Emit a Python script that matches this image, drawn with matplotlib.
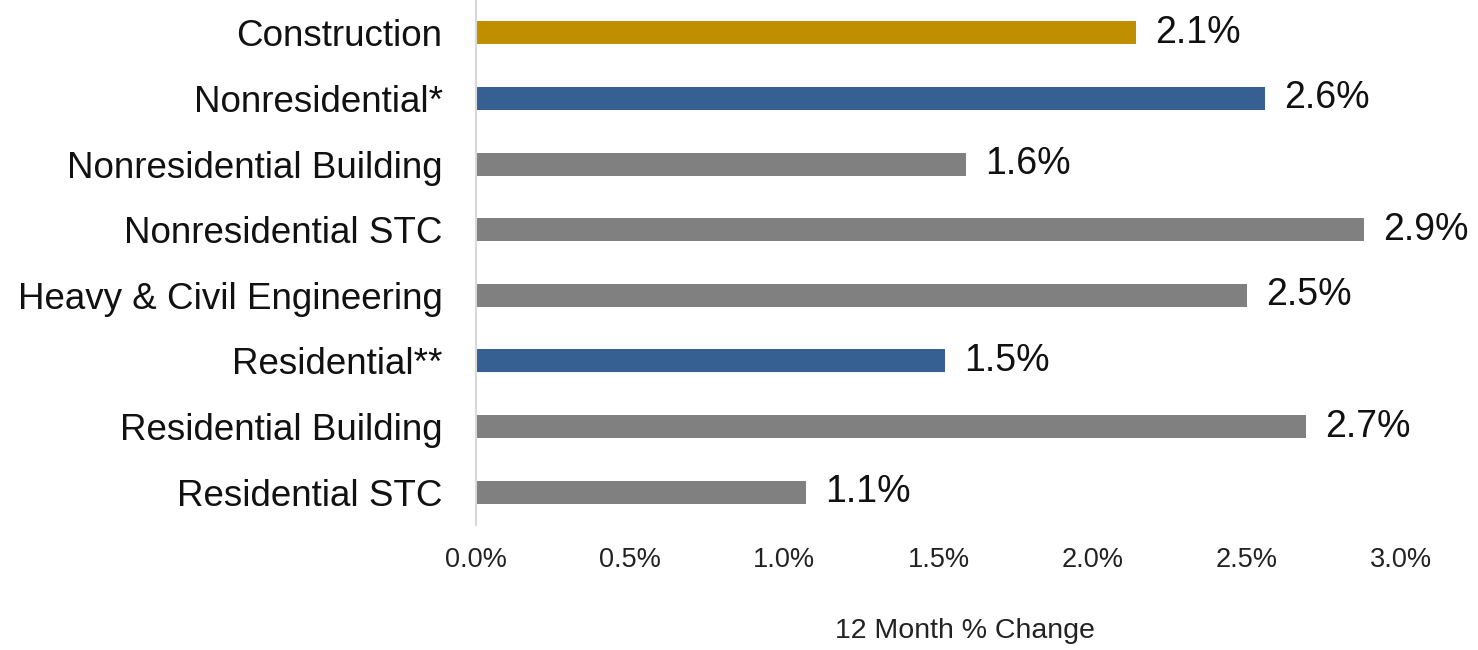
import matplotlib.pyplot as plt
from matplotlib.ticker import FuncFormatter

plt.rcParams['font.family'] = ['Liberation Sans', 'DejaVu Sans']

categories = ['Construction', 'Nonresidential*', 'Nonresidential Building',
              'Nonresidential STC', 'Heavy & Civil Engineering', 'Residential**',
              'Residential Building', 'Residential STC']
pct_change = [2.14, 2.56, 1.59, 2.88, 2.50, 1.52, 2.69, 1.07]
bar_colors = ['#BF8F00', '#366092', '#808080', '#808080',
              '#808080', '#366092', '#808080', '#808080']
x_ticks = [0.0, 0.5, 1.0, 1.5, 2.0, 2.5, 3.0]

fig = plt.figure(figsize=(14.78, 6.5), dpi=100)
ax = fig.add_axes([0.322, 0.1923, 0.626, 0.8077])

y = range(len(categories))
ax.barh(y, pct_change, height=0.35, color=bar_colors)
for yi, v in zip(y, pct_change):
    ax.text(v + 0.062, yi, f'{v:.1f}%', va='center', ha='left', fontsize=27, color='#111111')

ax.set_xlim(0, 3.0)
ax.set_ylim(7.5, -0.5)
ax.set_yticks(list(y))
ax.set_yticklabels(categories, fontsize=26.5, color='#111111')
ax.set_xticks(x_ticks)
ax.xaxis.set_major_formatter(FuncFormatter(lambda v, p: f'{v:.1f}%'))
ax.tick_params(axis='x', labelsize=19.5, colors='#222222', length=0, pad=16)
ax.tick_params(axis='y', length=0, pad=24)

for s in ['top', 'right', 'bottom']:
    ax.spines[s].set_visible(False)
ax.spines['left'].set_color('#d9d9d9')
ax.spines['left'].set_linewidth(1.5)

ax.set_xlabel('12 Month % Change', fontsize=20.5, color='#222222')
ax.xaxis.set_label_coords(0.529, -0.178)

fig.savefig('out.png', dpi=100)
